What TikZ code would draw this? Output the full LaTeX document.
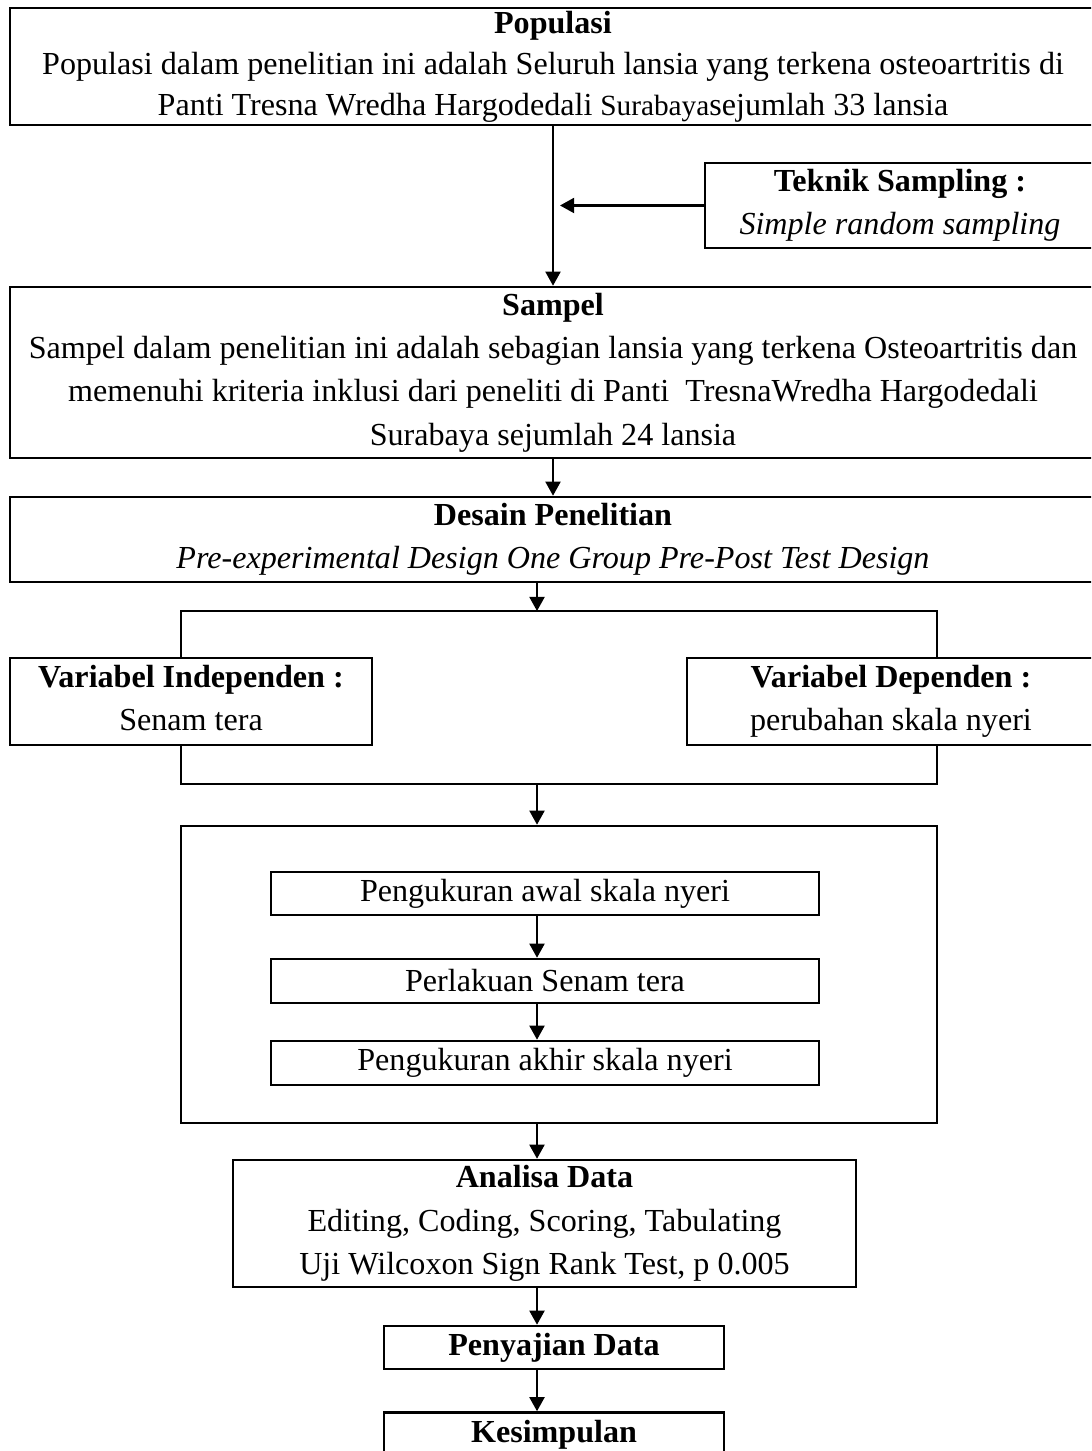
\documentclass[tikz,border=0pt]{standalone}
\usepackage{fontspec}
\setmainfont{Liberation Serif}
\usetikzlibrary{arrows.meta}

\newcommand{\pxu}{0.015cm}
\tikzset{
  box/.style={draw, line width=1.1pt, align=center, inner sep=0pt,
    font=\fontsize{13.7}{18.5}\selectfont},
  wire/.style={line width=0.9pt},
}

\begin{document}
\begin{tikzpicture}[x=0.015cm, y=-0.015cm, >={Triangle[length=6pt,width=6.4pt]}]

\useasboundingbox (0,0) rectangle (1091,1451);
\clip (0,0) rectangle (1091,1451);

%\draw[xstep=100,ystep=100,color=gray!40] (0,0) grid (1091,1451);

% top part
\node[box, font=\fontsize{13.7}{17.5}\selectfont, minimum width=1086*\pxu, minimum height=117*\pxu] (populasi) at (553,66.5)
{\textbf{Populasi}\\
Populasi dalam penelitian ini adalah Seluruh lansia yang terkena osteoartritis di\\
Panti Tresna Wredha Hargodedali {\fontsize{12.5}{17}\selectfont Surabaya}sejumlah 33 lansia};

\node[box, minimum width=390*\pxu, minimum height=85*\pxu] (teknik) at (900,205.5)
{\textbf{Teknik Sampling :}\\ \textit{Simple random sampling}};

\node[box, minimum width=1086*\pxu, minimum height=171*\pxu] (sampel) at (553,372.5)
{\textbf{Sampel}\\
Sampel dalam penelitian ini adalah sebagian lansia yang terkena Osteoartritis dan\\
memenuhi kriteria inklusi dari peneliti di Panti~ TresnaWredha Hargodedali\\
Surabaya sejumlah 24 lansia};

\node[box, minimum width=1086*\pxu, minimum height=85*\pxu] (desain) at (553,539.5)
{\textbf{Desain Penelitian}\\
\textit{Pre-experimental Design One Group Pre-Post Test Design}};

\node[box, minimum width=362*\pxu, minimum height=87*\pxu] (indep) at (191,701.5)
{\textbf{Variabel Independen :}\\ Senam tera\vphantom{y}};
\node[box, minimum width=408*\pxu, minimum height=87*\pxu] (dep) at (891,701.5)
{\textbf{Variabel Dependen :}\\ perubahan skala nyeri};

% frame with the three steps
\node[box, minimum width=756*\pxu, minimum height=297*\pxu] (frame) at (559,974.5) {};
\node[box, minimum width=548*\pxu, minimum height=43*\pxu] (awal) at (545,893.5)
{Pengukuran awal skala nyeri};
\node[box, minimum width=548*\pxu, minimum height=44*\pxu] (perlakuan) at (545,981)
{Perlakuan Senam tera};
\node[box, minimum width=548*\pxu, minimum height=44*\pxu] (akhir) at (545,1063)
{Pengukuran akhir skala nyeri};

% bottom part
\node[box, minimum width=623*\pxu, minimum height=127*\pxu] (analisa) at (544.5,1223.5)
{\textbf{Analisa Data}\\
Editing, Coding, Scoring, Tabulating\\
Uji Wilcoxon Sign Rank Test, p 0.005};
\node[box, minimum width=340*\pxu, minimum height=43*\pxu] (penyajian) at (554,1347.5)
{\textbf{Penyajian Data}};
\node[box, minimum width=340*\pxu, minimum height=45*\pxu] (kesimpulan) at (554,1435)
{\textbf{Kesimpulan}};

\coordinate (mid) at (537,0);
\coordinate (tl) at (181,611);
\coordinate (tr) at (937,611);
\coordinate (bl) at (181,784);
\coordinate (br) at (937,784);

\draw[wire, ->] (populasi.south) -- (sampel.north);
\draw[wire, ->, shorten >=3pt] (teknik.west) -- (teknik.west -| populasi.south);
\draw[wire, ->] (sampel.south) -- (desain.north);
\draw[wire, ->] (desain.south -| mid) -- (tl -| mid);
\draw[wire] (indep.north -| tl) -- (tl) -- (tr) -- (dep.north -| tr);
\draw[wire] (indep.south -| bl) -- (bl) -- (br) -- (dep.south -| br);
\draw[wire, ->] (bl -| mid) -- (frame.north -| mid);
\draw[wire, ->] (awal.south -| mid) -- (perlakuan.north -| mid);
\draw[wire, ->] (perlakuan.south -| mid) -- (akhir.north -| mid);
\draw[wire, ->] (frame.south -| mid) -- (analisa.north -| mid);
\draw[wire, ->] (analisa.south -| mid) -- (penyajian.north -| mid);
\draw[wire, ->] (penyajian.south -| mid) -- (kesimpulan.north -| mid);

\end{tikzpicture}
\end{document}
